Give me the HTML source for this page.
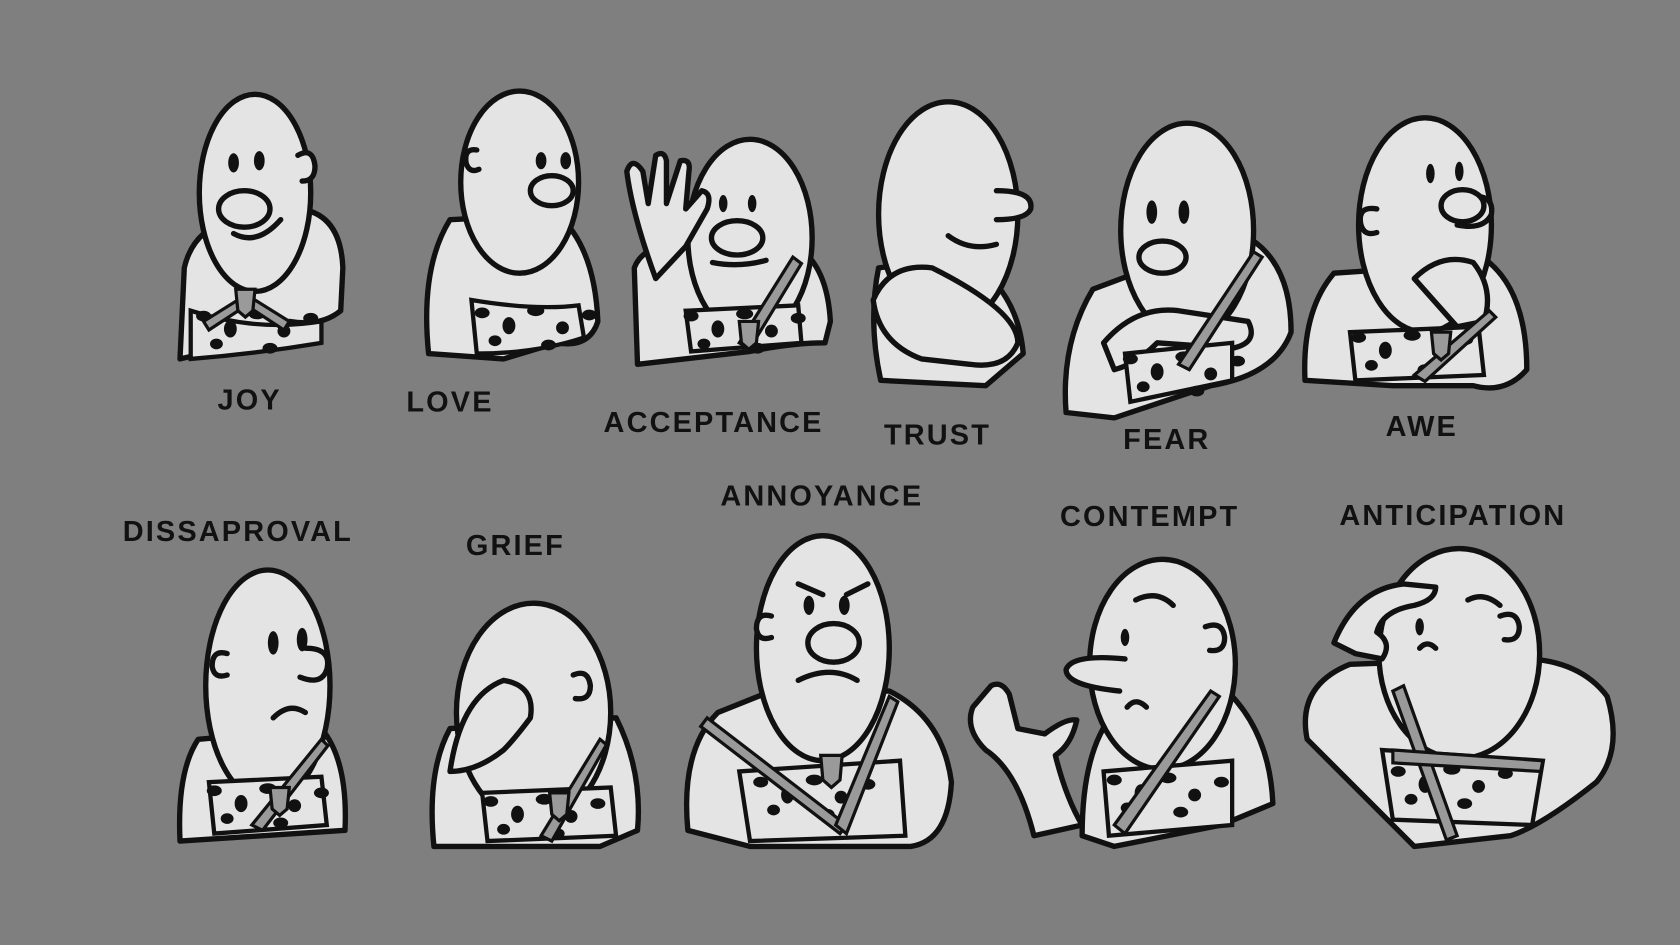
<!DOCTYPE html>
<html><head><meta charset="utf-8"><style>
html,body{margin:0;padding:0;background:#7f7f7f;}
svg{display:block}
text{font-family:"Liberation Sans",sans-serif;font-weight:bold;font-size:27px;fill:#111;letter-spacing:2px;text-anchor:middle}
</style></head><body>
<svg width="1680" height="945" viewBox="0 0 1568 882" xmlns="http://www.w3.org/2000/svg">
<rect width="1568" height="882" fill="#7f7f7f"/>
<defs>
<g id="spots" fill="#111"><ellipse cx="0" cy="0" rx="7" ry="5"/><ellipse cx="25" cy="12" rx="6" ry="8"/><ellipse cx="50" cy="-2" rx="8" ry="5"/><ellipse cx="75" cy="14" rx="6" ry="6"/><ellipse cx="100" cy="2" rx="7" ry="5"/><ellipse cx="12" cy="26" rx="6" ry="5"/><ellipse cx="62" cy="30" rx="7" ry="5"/></g>
</defs>
<g stroke="#111" stroke-width="5" fill="#e4e4e4" stroke-linejoin="round" stroke-linecap="round">
<!-- JOY -->
<path d="M168 335 L172 250 Q180 215 215 205 L280 195 Q318 200 320 250 L318 290 Q300 305 270 300 L240 318 Z"/>
<ellipse cx="238" cy="180" rx="52" ry="92"/>
<path d="M278 145 q14 -8 16 10 q0 14 -12 14" />
<!-- LOVE -->
<path d="M400 330 Q392 250 420 205 L520 200 Q555 230 558 300 Q550 325 520 320 L470 335 Z"/>
<ellipse cx="485" cy="170" rx="55" ry="85"/>
<path d="M445 140 q-12 -2 -10 12 q3 10 12 6"/>
<!-- ACCEPTANCE -->
<path d="M595 340 L592 250 Q600 228 640 225 L740 228 Q772 245 775 300 L770 320 Q740 320 700 328 Z"/>
<ellipse cx="700" cy="222" rx="58" ry="92"/>
<path d="M612 260 Q590 200 585 160 Q590 145 600 160 L605 190 L612 145 Q620 140 622 150 L622 190 L635 150 Q645 148 643 160 L640 195 L655 178 Q665 180 660 195 L640 230 Z"/>
<!-- TRUST -->
<path d="M822 355 Q810 300 820 250 L900 240 Q950 270 955 330 L920 360 Z"/>
<ellipse cx="885" cy="200" rx="65" ry="105"/>
<path d="M930 178 Q965 178 962 195 Q958 205 930 205"/>
<path d="M815 280 Q830 245 870 250 Q950 290 950 320 Q940 345 905 340 L860 335 Q820 320 815 280 Z"/>
<!-- FEAR -->
<path d="M995 385 Q990 320 1020 270 L1100 240 L1170 225 Q1205 250 1205 310 Q1190 350 1130 360 L1040 390 Z"/>
<ellipse cx="1108" cy="215" rx="62" ry="100"/>
<path d="M1030 320 Q1060 285 1100 290 L1165 300 Q1175 320 1150 325 L1080 320 Q1060 340 1040 345 Z"/>
<!-- AWE -->
<path d="M1218 355 Q1215 290 1245 255 L1390 245 Q1425 275 1425 345 Q1405 368 1375 360 L1300 360 Z"/>
<ellipse cx="1330" cy="210" rx="62" ry="100"/>
<path d="M1365 185 Q1395 178 1392 200 Q1385 215 1360 210"/>
<path d="M1285 195 q-18 -3 -15 14 q3 12 15 8"/>
<path d="M1320 260 Q1345 235 1375 245 Q1395 270 1385 300 L1360 305 Z"/>
<!-- DISSAPROVAL -->
<path d="M168 785 Q165 720 185 690 L300 680 Q325 710 322 775 Z"/>
<ellipse cx="250" cy="640" rx="58" ry="108"/>
<path d="M212 610 q-14 -4 -14 12 q2 12 14 8"/>
<path d="M285 605 Q310 605 305 625 Q300 640 280 632"/>
<!-- GRIEF -->
<path d="M405 790 Q398 720 420 680 L575 670 Q600 720 595 775 L560 790 Z"/>
<ellipse cx="498" cy="665" rx="72" ry="102"/>
<path d="M535 630 q14 -6 16 10 q0 14 -14 12"/>
<path d="M420 720 Q430 650 470 635 Q500 640 495 670 Q480 690 470 700 Q445 720 420 720 Z"/>
<!-- ANNOYANCE -->
<path d="M642 775 Q635 700 670 665 L720 645 L830 645 Q880 670 888 730 Q885 785 850 790 L700 790 Z"/>
<ellipse cx="768" cy="605" rx="62" ry="105"/>
<path d="M720 575 q-14 -4 -14 12 q2 12 14 8"/>
<!-- CONTEMPT -->
<path d="M1010 780 Q1010 700 1040 665 L1140 640 Q1185 680 1188 750 L1140 770 L1040 790 Z"/>
<ellipse cx="1085" cy="620" rx="68" ry="98"/>
<path d="M1125 585 q16 -6 18 10 q0 14 -14 12"/>
<path d="M1050 615 Q1000 610 995 625 Q995 640 1045 645"/>
<path d="M965 780 Q950 720 920 700 Q900 680 908 660 L925 640 Q935 635 942 648 L950 680 L975 685 Q995 670 1005 672 Q1000 695 985 705 Q995 745 1010 770 Z"/>
<!-- ANTICIPATION -->
<path d="M1220 690 Q1210 640 1260 620 L1400 615 Q1470 610 1500 650 Q1515 700 1490 730 Q1440 770 1410 780 L1320 790 Z"/>
<ellipse cx="1362" cy="610" rx="75" ry="98"/>
<path d="M1400 575 q16 -6 18 10 q0 14 -14 12"/>
<path d="M1245 600 Q1265 550 1310 545 L1340 548 Q1340 560 1320 565 Q1290 570 1285 590 Q1300 600 1290 615 L1265 610 Z"/>
</g>
<!-- leopard clothing bands -->
<g fill="#e4e4e4" stroke="#111" stroke-width="4">
<path d="M178 290 Q240 310 300 300 L300 320 Q240 330 178 335 Z"/>
<path d="M440 280 Q500 290 540 285 L545 315 Q500 330 445 330 Z"/>
<path d="M640 290 L745 285 L748 320 L645 328 Z"/>
<path d="M1050 330 L1150 320 L1150 355 L1055 375 Z"/>
<path d="M1260 310 L1380 305 L1385 350 L1265 355 Z"/>
<path d="M195 730 L300 725 L305 770 L200 778 Z"/>
<path d="M450 740 L570 735 L575 780 L455 785 Z"/>
<path d="M690 720 L840 710 L845 780 L700 785 Z"/>
<path d="M1030 720 L1150 710 L1150 770 L1035 780 Z"/>
<path d="M1290 700 L1440 710 L1430 770 L1300 765 Z"/>
</g>
<use href="#spots" x="190" y="295"/><use href="#spots" x="450" y="292"/><use href="#spots" x="645" y="295"/>
<use href="#spots" x="1055" y="335"/><use href="#spots" x="1268" y="315"/><use href="#spots" x="200" y="738"/>
<use href="#spots" x="458" y="748"/><use href="#spots" x="710" y="730"/><use href="#spots" x="1040" y="728"/>
<use href="#spots" x="1305" y="720"/>
<!-- straps & badges -->
<g stroke="#111" stroke-width="3" fill="#9a9a9a">
<path d="M190 300 L230 275 L270 300 L265 308 L230 285 L195 308 Z"/><path d="M220 270 L238 270 L236 290 L229 296 L222 290 Z"/>
<path d="M690 320 L740 240 L748 246 L700 325 Z"/><path d="M690 300 L708 300 L706 320 L699 326 L692 320 Z"/>
<path d="M1100 340 L1170 235 L1178 240 L1110 345 Z"/>
<path d="M1320 350 L1390 290 L1396 296 L1330 356 Z"/><path d="M1336 310 L1354 310 L1352 330 L1345 336 L1338 330 Z"/>
<path d="M235 770 L300 690 L306 696 L245 775 Z"/><path d="M252 735 L270 735 L268 755 L261 761 L254 755 Z"/>
<path d="M505 780 L560 690 L566 695 L515 785 Z"/><path d="M513 740 L531 740 L529 760 L522 766 L515 760 Z"/>
<path d="M660 670 L790 770 L784 778 L654 678 Z"/><path d="M780 770 L830 650 L838 655 L790 778 Z"/><path d="M766 705 L786 705 L784 728 L776 735 L768 728 Z"/>
<path d="M1040 770 L1130 645 L1138 650 L1050 778 Z"/>
<path d="M1310 640 L1360 780 L1350 784 L1300 645 Z"/><path d="M1300 700 L1440 710 L1438 720 L1300 712 Z"/>
</g>
<!-- faces -->
<g fill="#111">
<ellipse cx="218" cy="152" rx="5" ry="9"/><ellipse cx="242" cy="150" rx="5" ry="9"/>
<ellipse cx="505" cy="150" rx="5" ry="8"/><ellipse cx="528" cy="150" rx="5" ry="8"/>
<ellipse cx="675" cy="190" rx="4" ry="8"/><ellipse cx="702" cy="190" rx="4" ry="8"/>
<ellipse cx="1075" cy="198" rx="5" ry="11"/><ellipse cx="1105" cy="198" rx="5" ry="11"/>
<ellipse cx="1335" cy="162" rx="4" ry="9"/><ellipse cx="1362" cy="160" rx="4" ry="9"/>
<ellipse cx="255" cy="600" rx="5" ry="11"/><ellipse cx="282" cy="597" rx="5" ry="11"/>
<ellipse cx="755" cy="565" rx="5" ry="9"/><ellipse cx="788" cy="565" rx="5" ry="9"/>
<ellipse cx="1050" cy="595" rx="4" ry="8"/>
<ellipse cx="1325" cy="585" rx="4" ry="8"/>
</g>
<g fill="#e4e4e4" stroke="#111" stroke-width="5">
<ellipse cx="228" cy="195" rx="24" ry="17"/>
<ellipse cx="515" cy="178" rx="20" ry="14"/>
<ellipse cx="688" cy="222" rx="24" ry="16"/>
<ellipse cx="1085" cy="240" rx="22" ry="15"/>
<ellipse cx="1365" cy="192" rx="20" ry="15"/>
<ellipse cx="778" cy="600" rx="24" ry="18"/>
</g>
<g fill="none" stroke="#111" stroke-width="5" stroke-linecap="round">
<path d="M218 218 Q240 230 262 205"/>
<path d="M885 220 Q905 235 930 228"/>
<path d="M665 245 Q690 250 715 243"/>
<path d="M745 635 Q775 620 800 635"/>
<path d="M255 670 Q270 655 285 665"/>
<path d="M1052 660 Q1060 650 1070 660"/>
<path d="M1340 605 q-8 -8 -15 0 M1060 560 Q1080 550 1095 565 M1370 560 Q1385 552 1400 565"/>
<path d="M745 545 L768 555 M790 555 L810 545"/>
</g>
<!-- labels -->
<text x="233" y="382">JOY</text>
<text x="420" y="384">LOVE</text>
<text x="666" y="403">ACCEPTANCE</text>
<text x="875" y="415">TRUST</text>
<text x="1089" y="419">FEAR</text>
<text x="1327" y="407">AWE</text>
<text x="222" y="505">DISSAPROVAL</text>
<text x="481" y="518">GRIEF</text>
<text x="767" y="472">ANNOYANCE</text>
<text x="1073" y="491">CONTEMPT</text>
<text x="1356" y="490">ANTICIPATION</text>
</svg>
</body></html>
